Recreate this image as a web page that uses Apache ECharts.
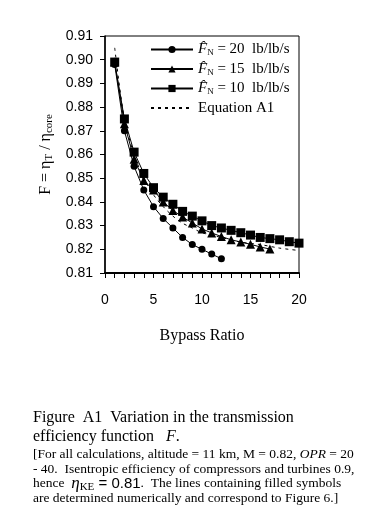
<!DOCTYPE html>
<html>
<head>
<meta charset="utf-8">
<script src="https://cdn.jsdelivr.net/npm/echarts@6/dist/echarts.min.js"></script>
<style>
html,body{margin:0;padding:0;background:#fff;}
#c{width:384px;height:529px;}
</style>
</head>
<body>
<div id="c"></div>
<script>
// Data
var bypass20 = [1, 2, 3, 4, 5, 6, 7, 8, 9, 10, 11, 12];
var F20 = [0.898, 0.870, 0.855, 0.845, 0.838, 0.833, 0.829, 0.825, 0.822, 0.820, 0.818, 0.816];

var bypass15 = [1, 2, 3, 4, 5, 6, 7, 8, 9, 10, 11, 12, 13, 14, 15, 16, 17];
var F15 = [0.899, 0.873, 0.858, 0.849, 0.845, 0.840, 0.8364, 0.8336, 0.8311, 0.8286, 0.8269, 0.8254, 0.824, 0.8231, 0.8221, 0.821, 0.8201];

var bypass10 = [1, 2, 3, 4, 5, 6, 7, 8, 9, 10, 11, 12, 13, 14, 15, 16, 17, 18, 19, 20];
var F10 = [0.899, 0.875, 0.861, 0.852, 0.846, 0.842, 0.839, 0.836, 0.834, 0.832, 0.830, 0.829, 0.828, 0.827, 0.826, 0.825, 0.8245, 0.824, 0.8232, 0.8226];

var bypassEq = [1, 2, 3, 4, 5, 6, 7, 8, 9, 10, 12, 14, 16, 18, 20];
var FEq = [0.905, 0.875, 0.860, 0.850, 0.843, 0.838, 0.834, 0.831, 0.829, 0.827, 0.825, 0.823, 0.822, 0.8205, 0.8195];

var xTicks = [0, 5, 10, 15, 20];
var yMin = 0.81, yMax = 0.91, yStep = 0.01;

var seriesNames = ['F20', 'F15', 'F10', 'Equation A1'];
var legendLabels = {
  'F20': '{f|F\u0302}{n|N}{t| = 20  lb/lb/s}',
  'F15': '{f|F\u0302}{n|N}{t| = 15  lb/lb/s}',
  'F10': '{f|F\u0302}{n|N}{t| = 10  lb/lb/s}',
  'Equation A1': '{t|Equation A1}'
};

function pairs(xs, ys) { return xs.map(function (x, i) { return [x, ys[i]]; }); }

var serif = 'Liberation Serif';
var sans = 'Liberation Sans';
var chart = echarts.init(document.getElementById('c'), null, {renderer: 'canvas'});

var lineBase = {type: 'line', animation: false, smooth: false, z: 3};

chart.setOption({
  backgroundColor: '#ffffff',
  animation: false,
  grid: {left: 105, right: 85, top: 36, bottom: 256, show: true, borderColor: '#000', borderWidth: 1, containLabel: false},
  xAxis: {
    type: 'value', min: 0, max: 20, interval: 5,
    axisLine: {show: true, onZero: false, lineStyle: {color: '#000', width: 2}},
    axisTick: {show: true, inside: false, length: 5, lineStyle: {color: '#000'}},
    minorTick: {show: true, splitNumber: 5, length: 5, lineStyle: {color: '#000'}},
    splitLine: {show: false},
    axisLabel: {margin: 20, color: '#000', fontFamily: sans, fontSize: 14,
      formatter: function (v) { return xTicks.indexOf(v) >= 0 ? String(v) : ''; }},
    name: 'Bypass Ratio', nameLocation: 'middle', nameGap: 55,
    nameTextStyle: {color: '#000', fontFamily: serif, fontSize: 16}
  },
  yAxis: {
    type: 'value', min: yMin, max: yMax, interval: yStep,
    axisLine: {show: true, onZero: false, lineStyle: {color: '#000', width: 1.5}},
    axisTick: {show: true, inside: false, length: 5, lineStyle: {color: '#000'}},
    splitLine: {show: false},
    axisLabel: {margin: 12, color: '#000', fontFamily: sans, fontSize: 14,
      formatter: function (v) { return v.toFixed(2); }},
    name: '{t|F = η}{s|T}{t| / η}{s|core}', nameLocation: 'middle', nameGap: 48, nameRotate: 90,
    nameTextStyle: {color: '#000', fontFamily: serif, fontSize: 16,
      rich: {
        t: {fontFamily: serif, fontSize: 16, color: '#000'},
        s: {fontFamily: serif, fontSize: 11, color: '#000', padding: [7, 0, 0, 0], verticalAlign: 'bottom'}
      }}
  },
  legend: {
    orient: 'vertical', left: 145, top: 37, itemGap: 4, itemWidth: 42, itemHeight: 9,
    data: ['F20', 'F15', 'F10', {name: 'Equation A1', itemStyle: {opacity: 0}}],
    formatter: function (name) { return legendLabels[name]; },
    textStyle: {color: '#000', fontFamily: serif, fontSize: 15,
      rich: {
        f: {fontFamily: serif, fontStyle: 'italic', fontSize: 15, color: '#000', height: 16},
        n: {fontFamily: serif, fontSize: 9, color: '#000', padding: [7, 0, 0, 0], verticalAlign: 'bottom'},
        t: {fontFamily: serif, fontSize: 15, color: '#000', height: 16}
      }}
  },
  series: [
    Object.assign({}, lineBase, {name: 'F20', data: pairs(bypass20, F20), symbol: 'circle', symbolSize: 7,
      lineStyle: {color: '#000', width: 1}, itemStyle: {color: '#000'}}),
    Object.assign({}, lineBase, {name: 'F15', data: pairs(bypass15, F15), symbol: 'triangle', symbolSize: 9,
      lineStyle: {color: '#000', width: 1}, itemStyle: {color: '#000'}}),
    Object.assign({}, lineBase, {name: 'F10', data: pairs(bypass10, F10), symbol: 'rect', symbolSize: 9,
      lineStyle: {color: '#000', width: 1}, itemStyle: {color: '#000'}}),
    Object.assign({}, lineBase, {name: 'Equation A1', data: pairs(bypassEq, FEq), symbol: 'none', showSymbol: false,
      lineStyle: {color: '#000', width: 1, type: [3, 4]}, itemStyle: {color: '#000'}, smooth: 0.3})
  ],
  graphic: [
    {type: 'text', left: 33, top: 410, style: {text: '{a|Figure  A1  Variation in the transmission}',
      rich: {a: {fontFamily: serif, fontSize: 16, fill: '#000'}}}},
    {type: 'text', left: 33, top: 429, style: {text: '{a|efficiency function   }{i|F}{a|.}',
      rich: {a: {fontFamily: serif, fontSize: 16, fill: '#000'}, i: {fontFamily: serif, fontSize: 16, fontStyle: 'italic', fill: '#000'}}}},
    {type: 'text', left: 33, top: 447, style: {text: '{a|[For all calculations, altitude = 11 km, M = 0.82, }{i|OPR}{a| = 20}',
      rich: {a: {fontFamily: serif, fontSize: 13.5, fill: '#000'}, i: {fontFamily: serif, fontSize: 13.5, fontStyle: 'italic', fill: '#000'}}}},
    {type: 'text', left: 33, top: 462, style: {text: '{a|- 40.  Isentropic efficiency of compressors and turbines 0.9,}',
      rich: {a: {fontFamily: serif, fontSize: 13.5, fill: '#000'}}}},
    {type: 'text', left: 33, top: 475, style: {text: '{a|hence  }{e|η}{k|KE}{b| = 0.81}{a|.  The lines containing filled symbols}',
      rich: {a: {fontFamily: serif, fontSize: 13.5, fill: '#000'},
        e: {fontFamily: serif, fontSize: 17, fontStyle: 'italic', fill: '#000'},
        k: {fontFamily: serif, fontSize: 11, fill: '#000', padding: [7, 0, 0, 0], verticalAlign: 'bottom'},
        b: {fontFamily: sans, fontSize: 15, fill: '#000'}}}},
    {type: 'text', left: 33, top: 491, style: {text: '{a|are determined numerically and correspond to Figure 6.]}',
      rich: {a: {fontFamily: serif, fontSize: 13.5, fill: '#000'}}}}
  ]
});
</script>
</body>
</html>
